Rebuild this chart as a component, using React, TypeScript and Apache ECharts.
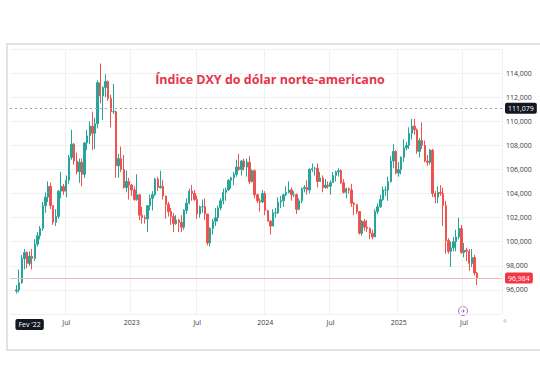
import React, { useEffect, useRef } from 'react';
import * as echarts from 'echarts';

const chartTitle = 'Índice DXY do dólar norte-americano';
const startLabel = "Fev '22";
const startLabelIndex = 7;
const tickIndex = [21, 46, 71, 97, 122, 148, 173];
const tickText = ['Jul', '2023', 'Jul', '2024', 'Jul', '2025', 'Jul'];
const refHigh = 111.079;
const lastPrice = 96.984;
const yMin = 94;
const yMax = 116;
const yStep = 2;
const leadPad = 2;
const tailPad = 9;

// [open, close, low, high] weekly candles
const candles2022 = [
  [95.9, 96.0, 95.7, 96.4], [96.0, 96.6, 95.8, 97.7], [96.6, 98.6, 96.5, 98.9], [98.6, 99.1, 97.7, 99.4],
  [99.1, 98.2, 97.8, 99.2], [98.2, 98.8, 98.0, 99.2], [98.8, 98.6, 97.7, 99.4], [98.6, 99.8, 98.4, 100.2],
  [99.8, 100.5, 99.6, 100.8], [100.5, 101.1, 100.2, 101.3], [101.1, 103.0, 100.9, 103.3], [103.0, 103.7, 102.4, 104.1],
  [103.7, 104.6, 103.3, 105.0], [104.6, 103.0, 102.7, 104.9], [103.0, 101.6, 101.4, 103.0], [101.6, 102.1, 101.3, 102.7],
  [102.1, 104.2, 101.9, 104.3], [104.2, 104.6, 103.6, 105.8], [104.6, 104.2, 103.9, 104.8], [104.2, 105.1, 103.7, 105.5],
  [105.1, 107.0, 104.8, 107.2], [107.0, 108.1, 106.8, 109.3], [108.1, 106.7, 106.4, 108.2], [106.7, 105.8, 105.6, 107.4],
  [105.8, 106.6, 104.9, 106.9], [106.6, 105.6, 104.6, 106.9], [105.6, 108.2, 105.3, 108.3], [108.2, 108.8, 107.6, 109.3],
  [108.8, 109.6, 108.1, 110.0], [109.6, 109.0, 107.6, 110.8], [109.0, 109.8, 107.7, 110.3], [109.8, 113.2, 109.4, 113.4],
  [113.2, 112.1, 111.5, 114.8], [112.1, 112.8, 110.1, 112.9], [112.8, 113.3, 112.0, 113.9], [113.3, 111.9, 111.7, 113.4],
  [111.9, 110.8, 109.5, 112.2], [110.8, 110.8, 110.6, 113.1], [110.8, 106.3, 105.3, 110.9], [106.3, 106.9, 105.3, 107.3],
  [106.9, 106.0, 105.8, 107.9], [106.0, 104.5, 104.4, 107.2], [104.5, 105.0, 104.1, 105.9], [105.0, 104.7, 103.5, 105.3],
  [104.7, 104.3, 103.8, 104.8], [104.3, 103.5, 103.4, 104.6],
];
const candles2023 = [
  [103.5, 103.9, 103.4, 105.6], [103.9, 102.2, 101.8, 103.9], [102.2, 102.0, 101.5, 102.9], [102.0, 101.9, 101.5, 102.2],
  [101.9, 103.0, 100.8, 103.0], [103.0, 103.6, 102.6, 103.9], [103.6, 103.9, 102.6, 104.2], [103.9, 105.2, 103.8, 105.3],
  [105.2, 104.5, 104.2, 105.4], [104.5, 104.6, 104.4, 105.9], [104.6, 103.8, 103.5, 105.1], [103.8, 103.1, 101.9, 103.8],
  [103.1, 102.5, 102.1, 103.3], [102.5, 102.1, 101.4, 102.8], [102.1, 101.5, 100.8, 102.4], [101.5, 101.8, 101.4, 102.2],
  [101.8, 101.6, 100.8, 101.9], [101.6, 101.2, 100.8, 102.2], [101.2, 102.6, 101.0, 102.7], [102.6, 103.2, 102.3, 103.6],
  [103.2, 104.2, 103.1, 104.4], [104.2, 104.0, 103.4, 104.7], [104.0, 103.5, 103.4, 104.3], [103.5, 102.3, 101.9, 103.8],
  [102.3, 102.9, 102.0, 103.0], [102.9, 102.9, 102.4, 103.5], [102.9, 102.3, 101.8, 103.6], [102.3, 99.9, 99.7, 102.3],
  [99.9, 101.1, 99.6, 101.2], [101.1, 101.7, 100.6, 101.9], [101.7, 102.0, 101.3, 102.8], [102.0, 102.8, 101.7, 103.0],
  [102.8, 103.4, 102.6, 103.6], [103.4, 104.1, 103.1, 104.4], [104.1, 104.3, 103.4, 104.5], [104.3, 105.1, 104.2, 105.2],
  [105.1, 105.3, 104.4, 105.4], [105.3, 105.6, 104.7, 105.8], [105.6, 106.2, 105.4, 106.8], [106.2, 106.0, 105.9, 107.3],
  [106.0, 106.7, 105.5, 106.8], [106.7, 106.2, 105.9, 106.9], [106.2, 106.6, 105.4, 106.9], [106.6, 105.0, 104.8, 107.1],
  [105.0, 105.9, 104.9, 106.0], [105.9, 103.9, 103.6, 106.0], [103.9, 103.4, 103.2, 104.0], [103.4, 103.3, 102.5, 103.6],
  [103.3, 104.0, 103.2, 104.3], [104.0, 102.6, 102.2, 104.2], [102.6, 101.7, 101.7, 102.6], [101.7, 101.3, 100.6, 101.8],
];
const candles2024 = [
  [101.3, 102.4, 101.3, 102.7], [102.4, 102.4, 102.0, 102.8], [102.4, 103.3, 102.3, 103.7], [103.3, 103.4, 102.8, 103.8],
  [103.4, 103.9, 102.9, 104.0], [103.9, 104.1, 103.8, 104.6], [104.1, 104.3, 104.0, 105.0], [104.3, 103.9, 103.4, 104.5],
  [103.9, 103.9, 103.7, 104.2], [103.9, 102.7, 102.3, 104.0], [102.7, 103.4, 102.6, 103.6], [103.4, 104.4, 103.2, 104.5],
  [104.4, 104.5, 104.1, 104.7], [104.5, 104.3, 103.9, 105.1], [104.3, 106.0, 104.0, 106.1], [106.0, 106.1, 105.8, 106.5],
  [106.1, 106.1, 105.5, 106.2], [106.1, 105.0, 104.5, 106.5], [105.0, 105.3, 105.0, 105.8], [105.3, 104.5, 104.1, 105.5],
  [104.5, 104.7, 104.4, 105.2], [104.7, 104.6, 104.4, 105.0], [104.6, 104.9, 103.9, 105.1], [104.9, 105.5, 104.9, 105.8],
  [105.5, 105.8, 105.0, 105.9], [105.8, 105.9, 105.4, 106.1], [105.9, 104.9, 104.8, 106.0], [104.9, 104.1, 104.0, 105.2],
  [104.1, 104.4, 103.6, 104.5], [104.4, 104.3, 104.0, 104.5], [104.3, 103.2, 102.9, 104.8], [103.2, 103.1, 102.2, 103.3],
  [103.1, 102.5, 102.3, 103.1], [102.5, 100.7, 100.6, 102.5], [100.7, 101.7, 100.5, 101.8], [101.7, 101.2, 100.9, 101.9],
  [101.2, 101.1, 100.8, 101.8], [101.1, 100.7, 100.2, 101.2], [100.7, 100.4, 100.2, 101.0], [100.4, 102.5, 100.4, 102.7],
  [102.5, 102.9, 102.3, 103.2], [102.9, 103.5, 102.8, 103.9], [103.5, 104.3, 103.4, 104.6], [104.3, 104.3, 103.8, 104.6],
  [104.3, 105.0, 103.4, 105.4], [105.0, 106.7, 104.9, 107.1], [106.7, 107.5, 106.1, 108.1], [107.5, 105.7, 105.6, 107.6],
  [105.7, 106.0, 105.4, 106.6], [106.0, 107.0, 105.6, 107.1], [107.0, 107.8, 106.6, 108.5], [107.8, 108.0, 107.6, 108.3],
  [108.0, 109.0, 107.7, 109.5],
];
const candles2025 = [
  [109.0, 109.6, 108.5, 110.2], [109.6, 109.3, 108.9, 110.2], [109.3, 107.5, 107.3, 109.4], [107.5, 108.4, 107.0, 108.6],
  [108.4, 108.0, 107.7, 109.9], [108.0, 106.7, 106.6, 108.4], [106.7, 106.6, 106.3, 107.2], [106.6, 107.6, 106.4, 107.7],
  [107.6, 104.0, 103.7, 107.7], [104.0, 103.7, 103.2, 104.2], [103.7, 104.1, 103.2, 104.6], [104.1, 104.0, 103.8, 104.7],
  [104.0, 103.0, 101.3, 104.5], [103.0, 100.1, 99.0, 103.4], [100.1, 99.2, 99.0, 100.3], [99.2, 99.5, 97.9, 100.0],
  [99.5, 100.0, 99.2, 100.4], [100.0, 100.4, 99.2, 101.0], [100.4, 101.1, 100.2, 102.0], [101.1, 99.1, 99.0, 101.4],
  [99.1, 99.3, 98.7, 99.9], [99.3, 99.2, 98.4, 99.5], [99.2, 98.2, 97.6, 99.4], [98.2, 98.7, 97.9, 99.4],
  [98.7, 97.4, 97.2, 98.9], [97.4, 96.984, 96.4, 97.5],
];

const fmt = (v: number) => v.toFixed(3).replace('.', ',');

export default function App() {
  const ref = useRef<HTMLDivElement>(null);
  useEffect(() => {
    document.body.style.margin = '0';
    if (!ref.current) return;
    const chart = echarts.init(ref.current, null, { renderer: 'svg', width: 540, height: 378 });
    const candles = [...candles2022, ...candles2023, ...candles2024, ...candles2025];
    const empty = ['-', '-', '-', '-'];
    const seriesData: any[] = [];
    for (let i = 0; i < leadPad; i++) seriesData.push(empty);
    candles.forEach((c) => seriesData.push(c));
    const total = leadPad + candles.length + tailPad;
    const categories: string[] = [];
    for (let i = 0; i < total; i++) categories.push(String(i));
    const showLabel = (idx: number) => idx === startLabelIndex || tickIndex.includes(idx);
    chart.setOption({
      animation: false,
      backgroundColor: '#ffffff',
      title: {
        text: chartTitle,
        left: 'center',
        top: 68,
        textStyle: { color: '#e5354a', fontSize: 12.5, fontWeight: 'bold', fontFamily: 'Open Sans' },
      },
      grid: { left: 10, right: 38, top: 49, height: 265 },
      xAxis: {
        type: 'category',
        data: categories,
        boundaryGap: true,
        axisLine: { show: false },
        axisTick: { show: false },
        axisLabel: {
          interval: (idx: number) => showLabel(idx),
          formatter: (_v: string, idx: number) => {
            if (idx === startLabelIndex) return '{box|' + startLabel + '}';
            const k = tickIndex.indexOf(idx);
            return k >= 0 ? tickText[k] : '';
          },
          fontSize: 7,
          color: '#3a3a3a',
          fontFamily: 'Open Sans',
          margin: 5,
          rich: {
            box: { backgroundColor: '#131722', color: '#ffffff', padding: [2, 3], borderRadius: 2, fontSize: 7, fontFamily: 'Open Sans' },
          },
        },
        splitLine: {
          show: true,
          interval: (idx: number) => tickIndex.includes(idx),
          lineStyle: { color: '#f1f1f1', width: 1 },
        },
      },
      yAxis: {
        type: 'value',
        position: 'right',
        min: yMin,
        max: yMax,
        interval: yStep,
        axisLine: { show: false },
        axisTick: { show: false },
        axisLabel: {
          formatter: (v: number) => fmt(v),
          fontSize: 7,
          color: '#3a3a3a',
          fontFamily: 'Open Sans',
          margin: 4,
          showMinLabel: false,
          showMaxLabel: false,
        },
        splitLine: { lineStyle: { color: '#f1f1f1', width: 1 } },
      },
      series: [
        {
          type: 'candlestick',
          data: seriesData,
          barWidth: '72%',
          itemStyle: {
            color: '#26a69a',
            color0: '#ef5350',
            borderColor: '#26a69a',
            borderColor0: '#ef5350',
            borderWidth: 1,
          },
          markLine: {
            symbol: 'none',
            silent: true,
            data: [
              {
                yAxis: refHigh,
                lineStyle: { type: [2, 3], color: '#a0a0a0', width: 1 },
                label: {
                  show: true, position: 'end', distance: 3, formatter: () => fmt(refHigh),
                  backgroundColor: '#131722', color: '#ffffff', fontSize: 7, padding: [2, 3], borderRadius: 2, fontFamily: 'Open Sans',
                },
              },
              {
                yAxis: lastPrice,
                lineStyle: { type: 'solid', color: '#f5b8b8', width: 1 },
                label: {
                  show: true, position: 'end', distance: 3, formatter: () => fmt(lastPrice),
                  backgroundColor: '#f23645', color: '#ffffff', fontSize: 7, padding: [2, 3], borderRadius: 2, fontFamily: 'Open Sans',
                },
              },
            ],
          },
        },
      ],
      graphic: [
        {
          type: 'rect',
          shape: { x: 7, y: 44, width: 545, height: 306 },
          style: { fill: 'none', stroke: '#e2e2e2', lineWidth: 2 },
          silent: true,
        },
        {
          type: 'circle',
          shape: { cx: 463, cy: 311, r: 4.5 },
          style: { fill: '#ffffff', stroke: '#b76fd8', lineWidth: 1 },
        },
        {
          type: 'circle',
          shape: { cx: 463, cy: 311, r: 1.4 },
          style: { fill: '#9b4fc4' },
        },
        {
          type: 'circle',
          shape: { cx: 505, cy: 321, r: 1.2 },
          style: { fill: 'none', stroke: '#b0b0b0', lineWidth: 0.8 },
        },
      ],
    });
    return () => chart.dispose();
  }, []);
  return <div ref={ref} style={{ width: 540, height: 378 }} />;
}
